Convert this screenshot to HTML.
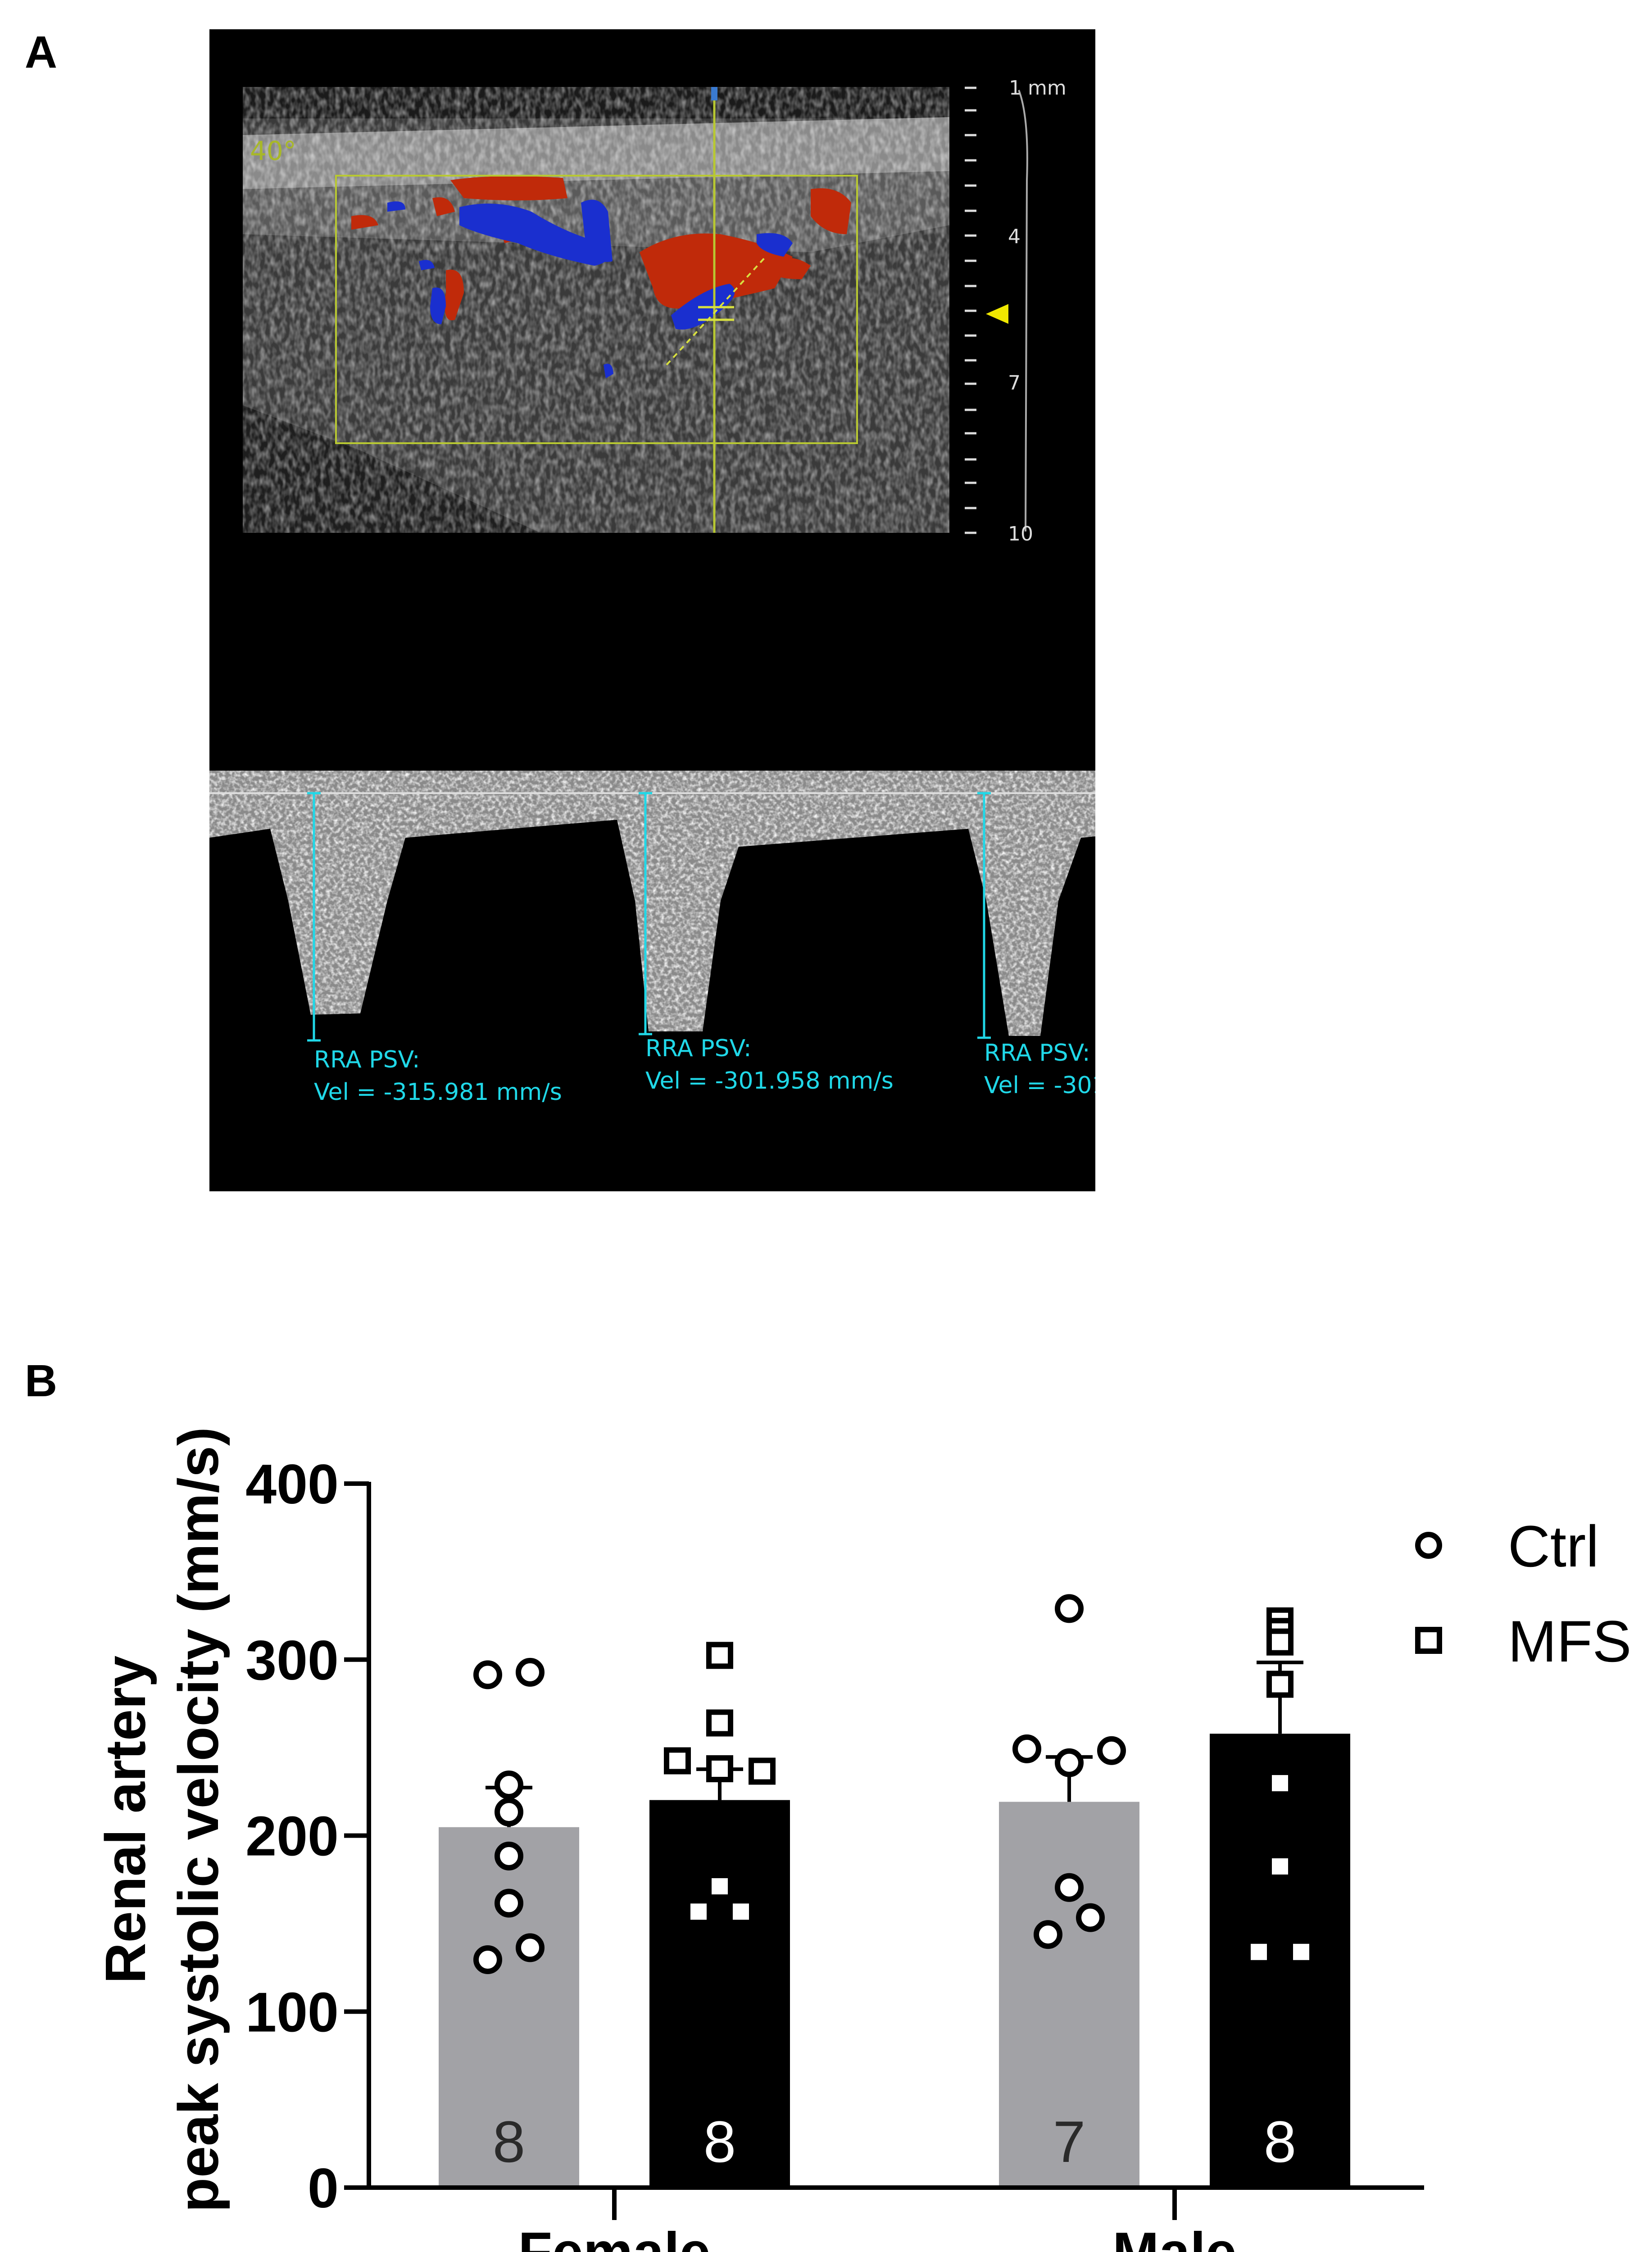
<!DOCTYPE html>
<html><head><meta charset="utf-8"><style>
html,body{margin:0;padding:0;background:#fff;width:3668px;height:5087px;overflow:hidden;}
svg{display:block;position:absolute;left:0;top:0;}
</style></head><body>
<svg width="3668" height="5087" viewBox="0 0 3668 5087" xmlns="http://www.w3.org/2000/svg" font-family="Liberation Sans, sans-serif">
<defs>
<filter id="speck" x="0" y="0" width="100%" height="100%">
<feTurbulence type="fractalNoise" baseFrequency="0.09 0.05" numOctaves="2" seed="3"/>
<feColorMatrix type="matrix" values="0 0 0 0 1  0 0 0 0 1  0 0 0 0 1  1.6 0 0 0 -0.55"/>
</filter>
<filter id="speck2" x="0" y="0" width="100%" height="100%">
<feTurbulence type="fractalNoise" baseFrequency="0.12" numOctaves="2" seed="7"/>
<feColorMatrix type="matrix" values="0 0 0 0 1  0 0 0 0 1  0 0 0 0 1  2.2 0 0 0 -0.85"/>
</filter>
<clipPath id="panelA"><rect x="465" y="65" width="1967" height="2580"/></clipPath>
<clipPath id="spec"><path d="M465 1711 L2432 1711 L2432 1857 L2400 1860 L2350 2000 L2310 2300 L2240 2300 L2190 2000 L2150 1840 L1640 1880 L1600 2000 L1560 2290 L1440 2290 L1410 2000 L1370 1820 L900 1860 L860 2000 L800 2250 L690 2253 L640 2000 L600 1840 L465 1860 Z"/></clipPath>
</defs>

<text x="91" y="150" font-size="100" font-weight="bold" text-anchor="middle">A</text>
<text x="91" y="3100" font-size="100" font-weight="bold" text-anchor="middle">B</text>

<g clip-path="url(#panelA)">
<rect x="465" y="65" width="1967" height="2580" fill="#000"/>
<g>
<rect x="539" y="193" width="1569" height="990" fill="#3a3a3a"/>
<rect x="539" y="193" width="1569" height="70" fill="#1a1a1a"/>
<path d="M539 300 L2108 260 L2108 380 L539 420 Z" fill="#8a8a8a"/>
<path d="M539 420 L2108 380 L2108 500 L1800 560 L539 520 Z" fill="#5a5a5a"/>
<path d="M539 900 L800 1000 L1200 1183 L539 1183 Z" fill="#1e1e1e"/>
<rect x="539" y="193" width="1569" height="990" filter="url(#speck)" opacity="0.55"/>
</g>
<g>
<g fill="#c02a0a">
<path d="M1420 560 Q1500 510 1600 520 Q1700 540 1760 570 L1720 640 Q1640 660 1540 680 Q1460 700 1450 640 Z"/>
<path d="M1000 400 Q1100 385 1250 395 L1260 440 Q1150 450 1030 440 Z"/>
<path d="M1800 420 Q1860 410 1890 450 L1880 520 Q1830 520 1800 480 Z"/>
<path d="M780 480 Q830 470 840 500 L780 510 Z"/>
<path d="M990 600 Q1030 590 1030 650 L1010 710 Q980 720 990 650 Z"/>
<path d="M1700 580 Q1760 560 1800 590 L1780 620 Q1720 620 1700 600 Z"/>
<path d="M960 440 Q1000 430 1010 470 L970 480 Z"/>
<path d="M1110 500 Q1150 490 1160 530 L1120 540 Z"/>
</g>
<g fill="#1a2fcf">
<path d="M1020 460 Q1100 440 1180 470 Q1260 520 1340 540 Q1370 580 1320 590 Q1220 570 1150 540 Q1060 520 1020 500 Z"/>
<path d="M1290 450 Q1330 430 1350 470 L1360 580 Q1320 590 1300 540 Z"/>
<path d="M1490 700 Q1560 640 1620 630 Q1650 650 1600 690 Q1540 740 1500 730 Z"/>
<path d="M960 640 Q990 630 990 680 L980 720 Q955 720 955 680 Z"/>
<path d="M1680 520 Q1740 510 1760 540 L1740 570 Q1690 560 1680 540 Z"/>
<path d="M860 450 Q900 440 900 465 L860 470 Z"/>
<path d="M1340 810 Q1360 800 1362 830 L1345 840 Z"/>
<path d="M930 580 Q960 570 965 595 L935 600 Z"/>
</g>
<rect x="746" y="390" width="1157" height="594" fill="none" stroke="#b8c832" stroke-width="4"/>
<line x1="1586" y1="193" x2="1586" y2="1183" stroke="#b8c832" stroke-width="5"/>
<rect x="1579" y="193" width="14" height="30" fill="#3a7ad0"/>
<line x1="1480" y1="810" x2="1700" y2="570" stroke="#d8e040" stroke-width="4" stroke-dasharray="12 10"/>
<line x1="1550" y1="682" x2="1630" y2="682" stroke="#d8e040" stroke-width="5"/>
<line x1="1550" y1="710" x2="1630" y2="710" stroke="#d8e040" stroke-width="5"/>
<text x="555" y="355" font-size="58" fill="#a8b828" font-family="DejaVu Sans, sans-serif">40°</text>
</g>
<g stroke="#ddd" stroke-width="5">
<line x1="2142" y1="195" x2="2168" y2="195"/><line x1="2142" y1="245" x2="2168" y2="245"/>
<line x1="2142" y1="300" x2="2168" y2="300"/><line x1="2142" y1="356" x2="2168" y2="356"/>
<line x1="2142" y1="412" x2="2168" y2="412"/><line x1="2142" y1="468" x2="2168" y2="468"/>
<line x1="2142" y1="523" x2="2168" y2="523"/><line x1="2142" y1="579" x2="2168" y2="579"/>
<line x1="2142" y1="635" x2="2168" y2="635"/><line x1="2142" y1="690" x2="2168" y2="690"/>
<line x1="2142" y1="745" x2="2168" y2="745"/><line x1="2142" y1="800" x2="2168" y2="800"/>
<line x1="2142" y1="852" x2="2168" y2="852"/><line x1="2142" y1="910" x2="2168" y2="910"/>
<line x1="2142" y1="962" x2="2168" y2="962"/><line x1="2142" y1="1020" x2="2168" y2="1020"/>
<line x1="2142" y1="1072" x2="2168" y2="1072"/><line x1="2142" y1="1128" x2="2168" y2="1128"/>
<line x1="2142" y1="1183" x2="2168" y2="1183"/>
<path d="M2262 200 Q2285 260 2280 400 L2277 1180" fill="none" stroke="#aaa" stroke-width="4"/>
</g>
<g font-family="DejaVu Sans, sans-serif" font-size="44" fill="#ddd">
<text x="2240" y="210">1 mm</text>
<text x="2238" y="540">4</text>
<text x="2238" y="865">7</text>
<text x="2238" y="1200">10</text>
</g>
<path d="M2189 697 L2239 675 L2239 719 Z" fill="#f0e800"/>
<g>
<rect x="465" y="1690" width="1967" height="620" fill="#8a8a8a" clip-path="url(#spec)"/>
<rect x="465" y="1690" width="1967" height="620" fill="#000" filter="url(#speck2)" clip-path="url(#spec)" opacity="0.9"/>
<line x1="465" y1="1761" x2="2432" y2="1761" stroke="#ddd" stroke-width="4"/>
</g>
<g stroke="#20d8e8" stroke-width="5">
<line x1="697" y1="1761" x2="697" y2="2310"/><line x1="682" y1="1761" x2="712" y2="1761"/><line x1="682" y1="2310" x2="712" y2="2310"/>
<line x1="1433" y1="1761" x2="1433" y2="2296"/><line x1="1418" y1="1761" x2="1448" y2="1761"/><line x1="1418" y1="2296" x2="1448" y2="2296"/>
<line x1="2185" y1="1761" x2="2185" y2="2304"/><line x1="2170" y1="1761" x2="2200" y2="1761"/><line x1="2170" y1="2304" x2="2200" y2="2304"/>
</g>
<g font-family="DejaVu Sans, sans-serif" font-size="52" fill="#20d8e8">
<text x="697" y="2370">RRA PSV:</text>
<text x="697" y="2442">Vel = -315.981 mm/s</text>
<text x="1433" y="2345">RRA PSV:</text>
<text x="1433" y="2417">Vel = -301.958 mm/s</text>
<text x="2185" y="2355">RRA PSV:</text>
<text x="2185" y="2427">Vel = -301.958 mm/s</text>
</g>
</g>

<g id="chart"></g>
</svg>
<script>
const categories = ["Female", "Male"];
const groups = ["Ctrl", "MFS"];
const ctrlMeans = [204.8, 219.2];
const mfsMeans = [220.2, 257.9];
const ctrlSem = [22.5, 25.5];
const mfsSem = [17.5, 40.5];
const nCounts = [[8, 8], [7, 8]];
const femaleCtrlPts = [291.4, 292.8, 228.8, 213.4, 188.4, 161.6, 129.5, 136.3];
const femaleMfsPts = [302.4, 264, 242.5, 238, 236.6, 171.2, 156.8, 156.8];
const maleCtrlPts = [329, 249.3, 241.4, 248.3, 170.5, 143.8, 153.4];
const maleMfsPts = [322, 316, 310, 286, 229.8, 182.5, 133.9, 133.9];
// horizontal scatter slot per point (layout only)
const femaleCtrlSlot = [-1, 1, 0, 0, 0, 0, -1, 1];
const femaleMfsSlot = [0, 0, -2, 0, 2, 0, -1, 1];
const maleCtrlSlot = [0, -2, 0, 2, 0, -1, 1];
const maleMfsSlot = [0, 0, 0, 0, 0, 0, -1, 1];
const yTicks = [0, 100, 200, 300, 400];

const NS = "http://www.w3.org/2000/svg";
const g = document.getElementById("chart");
const X0 = 819, X1 = 3162, Y0 = 4857, Y400 = 3294;
function yS(v){ return Y0 - (v/400)*(Y0 - Y400); }
const catCenters = [1364, 2608];
const barOff = 234, barW = 312, slotW = 47;
function bx(ci, gi){ return catCenters[ci] + (gi === 0 ? -barOff : barOff); }
function mk(tag, attrs){ const e = document.createElementNS(NS, tag); for (const k in attrs) e.setAttribute(k, attrs[k]); g.appendChild(e); return e; }

const means = [ctrlMeans, mfsMeans];
const sems = [ctrlSem, mfsSem];
const fills = ["#a2a2a6", "#000000"];
for (let ci = 0; ci < categories.length; ci++) {
  for (let gi = 0; gi < 2; gi++) {
    const cx = bx(ci, gi), v = means[gi][ci], top = yS(v), et = yS(v + sems[gi][ci]);
    const eb = mk("line", {x1: cx, y1: top, x2: cx, y2: et, stroke: "#000", "stroke-width": 8});
    
    
    const cap = mk("line", {x1: cx - 52, y1: et, x2: cx + 52, y2: et, stroke: "#000", "stroke-width": 8});
    
    
    const r = mk("rect", {x: cx - barW/2, y: top, width: barW, height: Y0 - top, fill: fills[gi]});
    
    
    const t = mk("text", {x: cx, y: 4800, "font-size": 130, "text-anchor": "middle", fill: gi === 0 ? "#2a2a2a" : "#fff"});
    t.textContent = nCounts[ci][gi];
    
    
  }
}
const ptSets = [[femaleCtrlPts, femaleMfsPts], [maleCtrlPts, maleMfsPts]];
const slotSets = [[femaleCtrlSlot, femaleMfsSlot], [maleCtrlSlot, maleMfsSlot]];
for (let ci = 0; ci < 2; ci++) {
  for (let gi = 0; gi < 2; gi++) {
    const arr = ptSets[ci][gi], slots = slotSets[ci][gi];
    arr.forEach((v, i) => {
      const cx = bx(ci, gi) + (slots[i] || 0) * slotW, cy = yS(v);
      let e;
      if (gi === 0) e = mk("circle", {cx: cx, cy: cy, r: 26, fill: "#fff", stroke: "#000", "stroke-width": 12});
      else e = mk("rect", {x: cx - 24, y: cy - 24, width: 48, height: 48, fill: "#fff", stroke: "#000", "stroke-width": 12});
      
      
    });
  }
}
const ya = mk("line", {x1: X0, y1: Y400 - 4, x2: X0, y2: Y0 + 5, stroke: "#000", "stroke-width": 10});


const xa = mk("line", {x1: X0 - 5, y1: Y0, x2: X1, y2: Y0, stroke: "#000", "stroke-width": 10});


yTicks.forEach(v => {
  const tk = mk("line", {x1: X0 - 55, y1: yS(v), x2: X0, y2: yS(v), stroke: "#000", "stroke-width": 10});
  
  
  const tl = mk("text", {x: 752, y: yS(v) + 44, "font-size": 124, "font-weight": "bold", "text-anchor": "end"});
  tl.textContent = v;
  
  
});
categories.forEach((c, ci) => {
  const tk = mk("line", {x1: catCenters[ci], y1: Y0, x2: catCenters[ci], y2: Y0 + 72, stroke: "#000", "stroke-width": 10});
  
  
  const tl = mk("text", {x: catCenters[ci], y: 5043, "font-size": 124, "font-weight": "bold", "text-anchor": "middle"});
  tl.textContent = c;
  
  
});
const t1 = mk("text", {x: 0, y: 0, "font-size": 126, "font-weight": "bold", "text-anchor": "middle", transform: "translate(322 4040) rotate(-90)"});
t1.textContent = "Renal artery";


const t2 = mk("text", {x: 0, y: 0, "font-size": 126, "font-weight": "bold", "text-anchor": "middle", transform: "translate(484 4040) rotate(-90)"});
t2.textContent = "peak systolic velocity (mm/s)";


const lc = mk("circle", {cx: 3172, cy: 3431, r: 24, fill: "#fff", stroke: "#000", "stroke-width": 12});


const lt = mk("text", {x: 3348, y: 3478, "font-size": 130});
lt.textContent = groups[0];


const ls = mk("rect", {x: 3148, y: 3618, width: 48, height: 48, fill: "#fff", stroke: "#000", "stroke-width": 12});


const lt2 = mk("text", {x: 3348, y: 3689, "font-size": 130});
lt2.textContent = groups[1];


</script>
</body></html>
